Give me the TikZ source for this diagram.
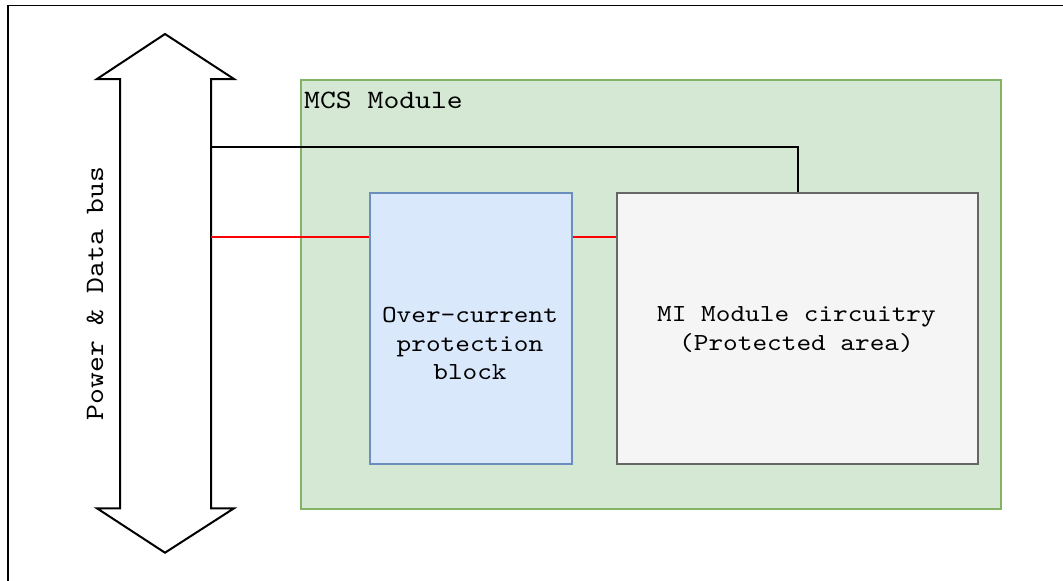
\documentclass[tikz,border=0pt]{standalone}
\usepackage{fontspec}
\setmonofont[FakeStretch=1.14]{lmmono10-regular.otf}
\definecolor{modfill}{HTML}{D5E8D4}
\definecolor{moddraw}{HTML}{82B366}
\definecolor{ocpfill}{HTML}{DAE8FC}
\definecolor{ocpdraw}{HTML}{6C8EBF}
\definecolor{mifill}{HTML}{F5F5F5}
\definecolor{midraw}{HTML}{666666}
\definecolor{powerred}{HTML}{FF0000}
\tikzset{
  boxarea/.style={draw, line width=2.2pt, inner sep=0pt, anchor=north west},
  label txt/.style={font=\ttfamily\fontsize{24.5}{28.5}\selectfont, anchor=base, inner sep=0pt},
  title txt/.style={font=\ttfamily\fontsize{26.5}{30}\selectfont, inner sep=0pt},
  busline/.style={line width=2pt, line join=miter, draw=black},
  powerline/.style={line width=2.2pt, draw=powerred},
}
\begin{document}
\begin{tikzpicture}[x=1pt, y=-1pt]
\useasboundingbox (0,0) rectangle (1063,581);
% outer frame (only its top and left edges fall on the page)
\draw[line width=1.8pt, black] (8,581) -- (8,5.5) -- (1063,5.5);

% MCS module area and its inner blocks
\node[boxarea, fill=modfill, draw=moddraw, minimum width=700pt, minimum height=429pt] (mcs) at (300,79) {};
\node[title txt, anchor=base west] (mcslbl) at (304,108) {MCS Module};
\node[boxarea, fill=ocpfill, draw=ocpdraw, minimum width=202pt, minimum height=271pt] (ocp) at (369,192) {};
\node[boxarea, fill=mifill, draw=midraw, minimum width=361pt, minimum height=271pt] (mi) at (616,192) {};

% block captions
\node[label txt] (ocpa) at (470,322) {Over-current};
\node[label txt] (ocpb) at (470,351) {protection};
\node[label txt] (ocpc) at (470,379) {block};
\node[label txt] (mia) at (796.5,321) {MI Module circuitry};
\node[label txt] (mib) at (796.5,350) {(Protected area)};

% power & data bus: vertical double-headed arrow
\draw[busline, fill=white] (165,34) -- (234,79) -- (211,79) -- (211,508.3) -- (234,508.3)
  -- (165,552.7) -- (97,508.3) -- (120,508.3) -- (120,79) -- (97,79) -- cycle;
\node[title txt, rotate=90, anchor=base] (buslbl) at (103,293.5) {Power \& Data bus};
\coordinate (tapdata) at (211,146.7);
\coordinate (tappower) at (211,237.3);

% connections from the bus
\draw[busline] (tapdata) -| (mi.north);
\draw[powerline] (tappower) -- (tappower -| ocp.west);
\draw[powerline] (tappower -| ocp.east) -- (tappower -| mi.west);
\end{tikzpicture}
\end{document}
